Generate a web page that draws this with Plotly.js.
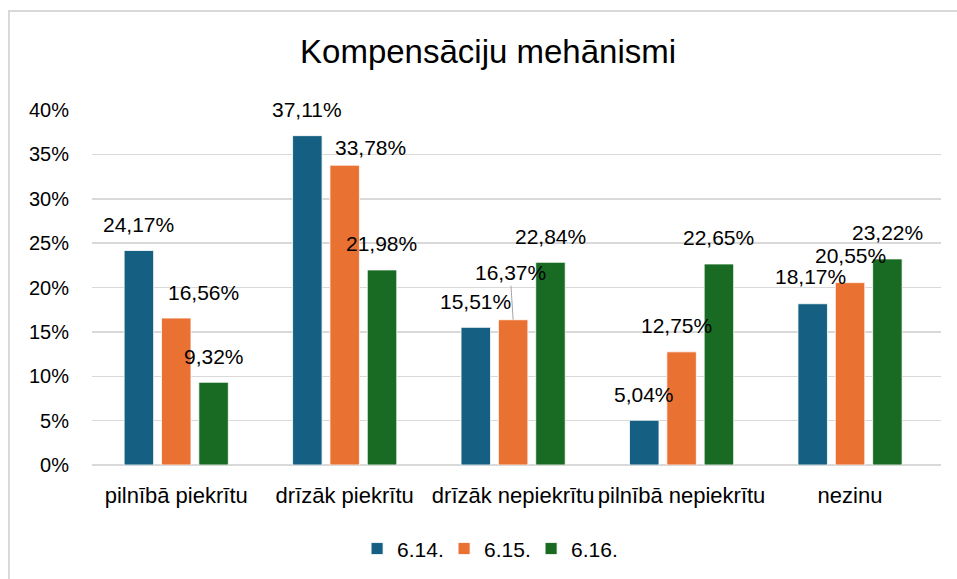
<!DOCTYPE html>
<html>
<head>
<meta charset="utf-8">
<script src="https://cdn.plot.ly/plotly-3.0.1.min.js"></script>
<style>
  html, body { margin: 0; padding: 0; background: #ffffff; overflow: hidden; }
  #chart { width: 957px; height: 579px; position: absolute; left: 0; top: 0; }
  #frame { position: absolute; left: 8px; top: 10px; width: 960px; height: 580px;
           border: 2px solid #d9d9d9; pointer-events: none; box-sizing: border-box; }
</style>
</head>
<body>
<div id="chart"></div>
<div id="frame"></div>
<script>
// ---- data ----
const categories = ["pilnībā piekrītu", "drīzāk piekrītu", "drīzāk nepiekrītu", "pilnībā nepiekrītu", "nezinu"];
const seriesNames = ["6.14.", "6.15.", "6.16."];
const values614 = [24.17, 37.11, 15.51, 5.04, 18.17];
const values615 = [16.56, 33.78, 16.37, 12.75, 20.55];
const values616 = [9.32, 21.98, 22.84, 22.65, 23.22];
const yTickValues = [0, 5, 10, 15, 20, 25, 30, 35, 40];

// ---- styling / label placement (pixels) ----
const colors = ["#156082", "#E97132", "#196B24"];
const seriesShift = [-37.3, 0, 37.3];
const labelDx = [[0, 0, 0, 0, -2], [27, 26, -3, -5, 0], [0, 0, 0, 0, 0]];
const labelDy = [[26, 26, 26, 26, 27], [26, 18, 47, 26, 27], [26, 26, 26, 26, 26]];
const leader = [[false, false, false, false, false], [false, false, true, false, false], [false, false, false, false, false]];

const allValues = [values614, values615, values616];
const fmt = v => v.toFixed(2).replace('.', ',') + '%';

const traces = allValues.map((vals, s) => ({
  type: 'bar',
  name: seriesNames[s],
  x: categories,
  y: vals,
  marker: { color: colors[s], line: { color: '#ffffff', width: 0.8 } },
  hoverinfo: 'x+y'
}));

const annotations = [];
allValues.forEach((vals, s) => {
  vals.forEach((v, i) => {
    const a = {
      x: categories[i], y: v, xref: 'x', yref: 'y',
      text: fmt(v),
      font: { family: 'Liberation Sans, Arial, sans-serif', size: 21, color: '#000000' }
    };
    if (leader[s][i]) {
      Object.assign(a, {
        showarrow: true, arrowhead: 0, arrowwidth: 1, arrowcolor: '#a6a6a6',
        standoff: 0, xshift: seriesShift[s],
        ax: labelDx[s][i], ay: -labelDy[s][i]
      });
    } else {
      Object.assign(a, {
        showarrow: false, xanchor: 'center', yanchor: 'middle',
        xshift: seriesShift[s] + labelDx[s][i], yshift: labelDy[s][i]
      });
    }
    annotations.push(a);
  });
});

const layout = {
  width: 957, height: 579,
  paper_bgcolor: '#ffffff', plot_bgcolor: '#ffffff',
  margin: { l: 92, r: 16, t: 110, b: 114, pad: 0, autoexpand: false },
  font: { family: 'Liberation Sans, Arial, sans-serif', color: '#000000' },
  title: {
    text: 'Kompensāciju mehānismi',
    font: { family: 'Liberation Sans, Arial, sans-serif', size: 33, color: '#000000' },
    x: 0.51, xref: 'container', xanchor: 'center',
    y: 0.912, yref: 'container', yanchor: 'middle'
  },
  barmode: 'group',
  bargap: 0.335,
  bargroupgap: 0.21,
  showlegend: true,
  legend: {
    orientation: 'h', xref: 'container', yref: 'container',
    x: 0.5095, xanchor: 'center', y: 0.052, yanchor: 'middle',
    font: { size: 21, color: '#000000' }, traceorder: 'normal',
    entrywidth: 42, entrywidthmode: 'pixels'
  },
  xaxis: {
    type: 'category',
    range: [-0.5, 4.54],
    showgrid: false, showline: false, zeroline: false,
    ticks: '', tickfont: { size: 22, color: '#000000' },
    ticklabelstandoff: 15,
    fixedrange: true
  },
  yaxis: {
    range: [0, 40],
    tickvals: yTickValues,
    ticktext: yTickValues.map(v => v + '%'),
    showgrid: true, gridcolor: '#d9d9d9', gridwidth: 1.5,
    zeroline: true, zerolinecolor: '#d9d9d9', zerolinewidth: 1.5,
    showline: false, ticks: '',
    tickfont: { size: 20, color: '#000000' },
    ticklabelstandoff: 22,
    fixedrange: true
  },
  annotations: annotations
};

Plotly.newPlot('chart', traces, layout, { displayModeBar: false, staticPlot: true });
</script>
</body>
</html>
